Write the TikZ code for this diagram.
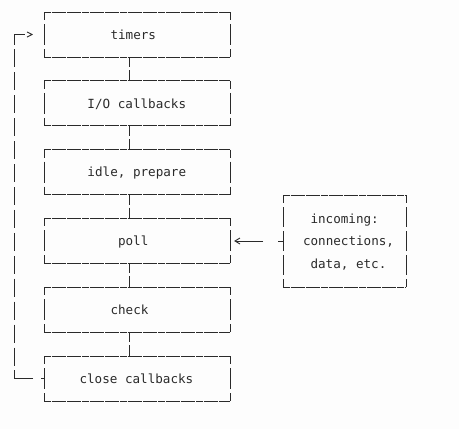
\documentclass[tikz,border=0pt]{standalone}
\usepackage{fontspec}
\setmonofont{DejaVu Sans Mono}
\usetikzlibrary{calc}
\definecolor{ink}{HTML}{2A2A2A}
\definecolor{bg}{HTML}{FDFDFD}
\tikzset{
  stage/.style={rectangle, draw=none, inner sep=0pt, outer sep=0pt,
    minimum width=186pt, minimum height=45pt},
  srcbox/.style={rectangle, draw=none, inner sep=0pt, outer sep=0pt,
    minimum width=123pt, minimum height=92pt},
  lbl/.style={anchor=base west, inner sep=0pt, outer sep=0pt, text=ink,
    font=\ttfamily\fontsize{12.6}{15}\selectfont},
  hline/.style={draw=ink, line width=0.9pt, dash pattern=on 7pt off 0.6pt},
  vline/.style={draw=ink, line width=0.9pt, dash pattern=on 8pt off 4pt on 21pt off 4pt on 8pt},
  vlinetall/.style={draw=ink, line width=0.9pt, dash pattern=on 8pt off 4pt on 20pt off 4pt on 20pt off 4pt on 20pt off 4pt on 8pt},
  link/.style={draw=ink, line width=0.9pt, dash pattern=on 10pt off 3pt on 11pt off 3pt},
  wire/.style={draw=ink, line width=0.9pt},
  loopv/.style={draw=ink, line width=0.9pt, dash pattern=on 18pt off 4.93pt, dash phase=8pt},
}
\newcommand\dashframe[2]{%
  \draw[hline] (#1.north west) -- (#1.north east);
  \draw[hline] (#1.south west) -- (#1.south east);
  \draw[#2] (#1.north west) -- (#1.south west);
  \draw[#2] (#1.north east) -- (#1.south east);}
\begin{document}
\begin{tikzpicture}[x=1pt, y=-1pt]
  \fill[bg] (0,0) rectangle (459,429);
  \useasboundingbox (0,0) rectangle (459,429);

  \node[stage] (timers) at (137, 34.5) {};
  \node[stage] (io)     at (137, 103.3) {};
  \node[stage] (idle)   at (137, 172.1) {};
  \node[stage] (poll)   at (137, 240.9) {};
  \node[stage] (check)  at (137, 309.7) {};
  \node[stage] (close)  at (137, 378.5) {};
  \node[srcbox] (inc)   at (344.5, 241) {};

  \foreach \n in {timers, io, idle, poll, check, close} {\dashframe{\n}{vline}}
  \dashframe{inc}{vlinetall}

  \node[lbl] (ltimers) at (110.5, 39.3)  {timers};
  \node[lbl] (lio)     at (87.5, 108.1)  {I/O callbacks};
  \node[lbl] (lidle)   at (87.5, 176.9)  {idle, prepare};
  \node[lbl] (lpoll)   at (118, 245.7)   {poll};
  \node[lbl] (lcheck)  at (110.5, 314.5) {check};
  \node[lbl] (lclose)  at (79.5, 383.3)  {close callbacks};
  \node[lbl] (linc1)   at (310.5, 223.3) {incoming:};
  \node[lbl] (linc2)   at (303, 245.8)   {connections,};
  \node[lbl] (linc3)   at (310.5, 268.3) {data, etc.};

  % links between stages
  \foreach \a/\b in {timers/io, io/idle, idle/poll, poll/check, check/close}
    \draw[link] ([xshift=-8pt]\a.south) -- ([xshift=-8pt]\b.north);

  % incoming -> poll
  \draw[wire] ([xshift=-5pt]inc.west) -- (inc.west);
  \draw[wire] ([xshift=-20pt]inc.west) -- ([xshift=-47pt]inc.west);
  \draw[wire, line join=miter] ([xshift=-43pt, yshift=-3pt]inc.west) -- ([xshift=-48pt]inc.west) -- ([xshift=-43pt, yshift=3pt]inc.west);

  % loop back from close callbacks to timers
  \coordinate (lb) at ($(close.west)+(-30pt,0)$);
  \coordinate (lt) at ($(timers.west)+(-30pt,0)$);
  \draw[wire] ([xshift=-3pt]close.west) -- (close.west);
  \draw[wire] ([xshift=-11pt]close.west) -- (lb);
  \draw[loopv] (lt) -- (lb);
  \draw[wire] (lt) -- ([xshift=-19pt]timers.west);
  \draw[wire, line join=miter] ([xshift=-17pt, yshift=-2.6pt]timers.west) -- ([xshift=-12pt]timers.west) -- ([xshift=-17pt, yshift=2.6pt]timers.west);
\end{tikzpicture}
\end{document}
